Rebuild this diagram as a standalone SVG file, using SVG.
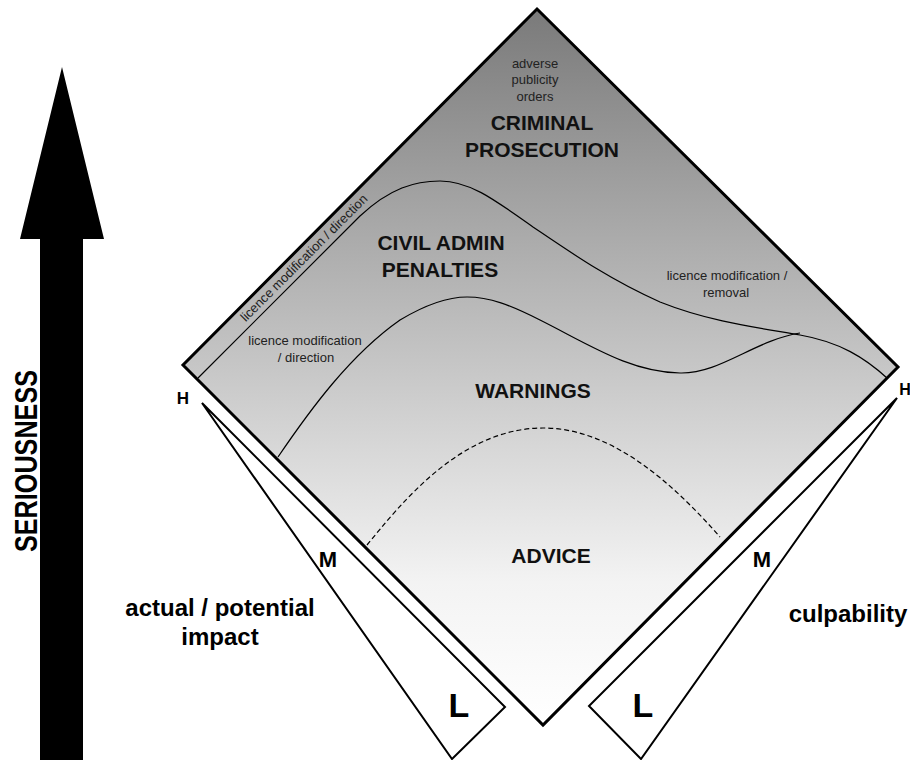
<svg xmlns="http://www.w3.org/2000/svg" width="910" height="760" viewBox="0 0 910 760">
<defs>
<linearGradient id="shade" gradientUnits="userSpaceOnUse" x1="0" y1="9" x2="0" y2="725">
<stop offset="0" stop-color="#7a7a7a"/>
<stop offset="0.55" stop-color="#cecece"/>
<stop offset="0.8" stop-color="#f3f3f3"/>
<stop offset="1" stop-color="#ffffff"/>
</linearGradient>
<style>
.hdr{font-family:"Liberation Sans",Arial,sans-serif;font-weight:bold;font-size:21px;fill:#111;text-anchor:middle}
.sm{font-family:"Liberation Sans",Arial,sans-serif;font-size:13px;fill:#222;text-anchor:middle}
.lvl{font-family:"Liberation Sans",Arial,sans-serif;font-weight:bold;fill:#000;text-anchor:middle}
.axis{font-family:"Liberation Sans",Arial,sans-serif;font-weight:bold;font-size:24px;fill:#000;text-anchor:middle}
.bd{fill:none;stroke:#000;stroke-width:1.2}
.wedge{fill:#fff;stroke:#000;stroke-width:2;stroke-linejoin:miter}
</style>
</defs>
<rect width="910" height="760" fill="#fff"/>

<g id="seriousness-arrow">
<polygon points="62,67 104,239 83,239 83,760 40,760 40,239 20,239" fill="#000"/>
<text x="37" y="461" transform="rotate(-90 37 461)" class="lvl" font-size="32" textLength="182" lengthAdjust="spacingAndGlyphs">SERIOUSNESS</text>
</g>

<g id="diamond">
<polygon points="537,9 898,367 543,725 183,365" fill="url(#shade)" stroke="#000" stroke-width="3" stroke-linejoin="miter"/>
</g>

<g id="connectors">
<path class="bd" d="M198,378 L360,216 C390,188 415,181 440,181 C470,181 495,200 533,227 C570,252 610,280 660,302 C710,322 760,328 800,335 C840,342 865,358 887,378"/>
<path class="bd" d="M278,457 C310,410 350,355 400,320 C430,302 450,297 467,297 C490,297 510,305 540,320 C590,345 630,372 680,373 C720,374 755,340 800,333"/>
<path class="bd" stroke-dasharray="5,3" d="M367,545 C400,505 460,428 543,428 C610,428 670,480 720,537"/>
</g>

<g id="criminal-prosecution">
<text class="sm" x="535" y="68">adverse</text>
<text class="sm" x="535" y="84">publicity</text>
<text class="sm" x="535" y="101">orders</text>
<text class="hdr" x="542" y="130">CRIMINAL</text>
<text class="hdr" x="542" y="157">PROSECUTION</text>
</g>

<g id="civil-admin-penalties">
<text class="sm" x="307" y="261" transform="rotate(-45 307 261)">licence modification / direction</text>
<text class="hdr" x="441" y="250">CIVIL ADMIN</text>
<text class="hdr" x="440" y="277">PENALTIES</text>
<text class="sm" x="727" y="280">licence modification /</text>
<text class="sm" x="726" y="297">removal</text>
</g>

<g id="warnings">
<text class="sm" x="305" y="345">licence modification</text>
<text class="sm" x="306" y="362">/ direction</text>
<text class="hdr" x="533" y="398">WARNINGS</text>
</g>

<g id="advice">
<text class="hdr" x="551" y="563">ADVICE</text>
</g>

<g id="impact-scale">
<polygon class="wedge" points="202,403 505,707 452,759"/>
<text class="lvl" x="183" y="404" font-size="17">H</text>
<text class="lvl" x="328" y="567" font-size="22">M</text>
<text class="lvl" x="459" y="717" font-size="34">L</text>
<text class="axis" x="220" y="616">actual / potential</text>
<text class="axis" x="220" y="645">impact</text>
</g>

<g id="culpability-scale">
<polygon class="wedge" points="897,398 589,706 641,759"/>
<text class="lvl" x="905" y="395" font-size="16">H</text>
<text class="lvl" x="762" y="567" font-size="22">M</text>
<text class="lvl" x="643" y="717" font-size="34">L</text>
<text class="axis" x="848" y="622">culpability</text>
</g>
</svg>
